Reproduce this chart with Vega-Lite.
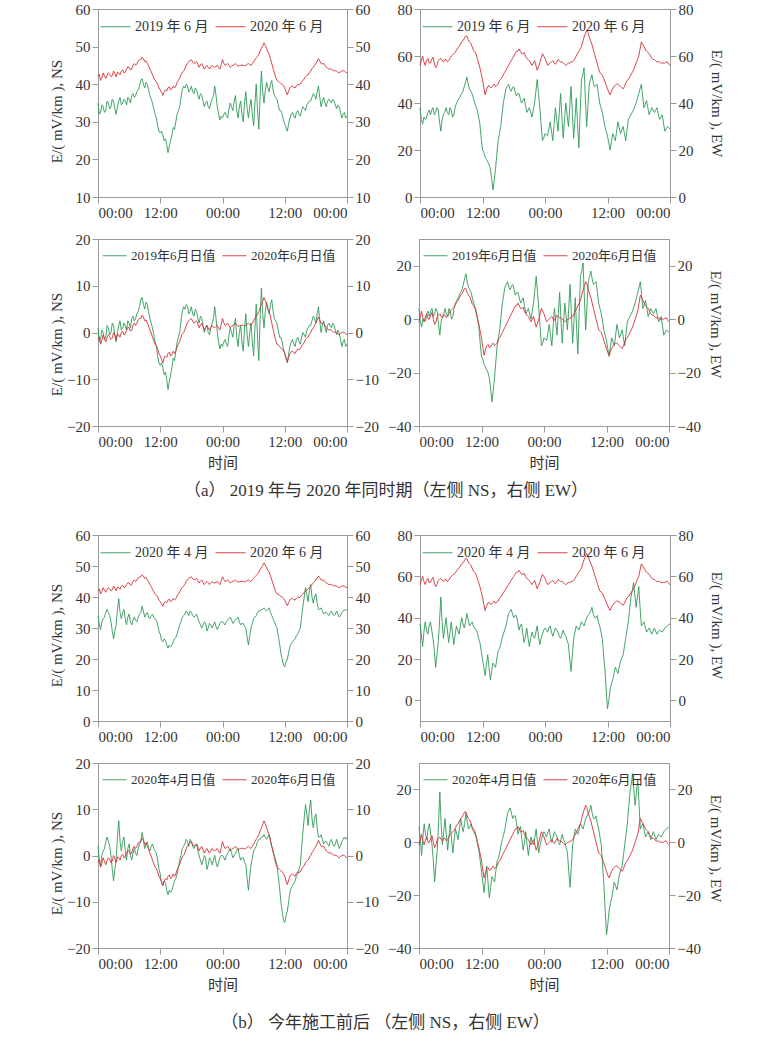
{
"$schema": "https://vega.github.io/schema/vega-lite/v6.json",
"background": "white",
"padding": {"left": 48, "top": 1, "right": 5, "bottom": 5},
"config": {
 "font": "'Liberation Serif', 'Times New Roman', 'Noto Sans CJK SC', serif",
 "view": {"stroke": "#9a9a9a", "strokeWidth": 1},
 "axis": {"domainColor": "#9a9a9a", "tickColor": "#9a9a9a", "labelColor": "#333333", "labelFontSize": 15, "titleFontSize": 15, "titleFontWeight": "normal", "titleColor": "#333333", "grid": false, "tickSize": 6, "labelPadding": 2, "labelFont": "'Liberation Serif', 'Times New Roman', 'Noto Sans CJK SC', serif", "titleFont": "'Liberation Serif', 'Times New Roman', 'Noto Sans CJK SC', serif"},
 "legend": {"orient": "top-left", "direction": "horizontal", "title": null, "offset": 2, "padding": 0, "symbolSize": 900, "symbolStrokeWidth": 1, "labelFontSize": 14, "labelOffset": 4, "columnPadding": 6, "labelColor": "#333333", "labelFont": "'Liberation Serif', 'Times New Roman', 'Noto Sans CJK SC', serif"},
 "title": {"fontSize": 17, "fontWeight": "normal", "color": "#333333", "font": "'Liberation Serif', 'Times New Roman', 'Noto Sans CJK SC', serif"},
 "line": {"strokeWidth": 0.9, "strokeJoin": "round", "clip": true}
},
"datasets": {
"ns": [
{"t":0,"a":35,"b":34,"r":42},{"t":0.5,"a":32.5,"b":29.5,"r":41},{"t":1,"a":34,"b":33,"r":43},{"t":1.5,"a":33,"b":35,"r":41.5},{"t":2,"a":35,"b":35,"r":43},{"t":2.5,"a":34,"b":32,"r":42},{"t":3,"a":35.5,"b":26.5,"r":43.5},{"t":3.5,"a":32,"b":31,"r":42},{"t":4,"a":35.5,"b":39.5,"r":43},{"t":4.5,"a":34.5,"b":33,"r":43.5},{"t":5,"a":36,"b":36,"r":43},{"t":5.5,"a":34.5,"b":31,"r":44},{"t":6,"a":36,"b":34.5,"r":44.5},{"t":6.5,"a":37,"b":31,"r":44},{"t":7,"a":36.5,"b":33.5,"r":45.5},{"t":7.5,"a":38,"b":32,"r":45.5},{"t":8,"a":39.5,"b":34.5,"r":46.5},{"t":8.5,"a":41.5,"b":37,"r":47.2},{"t":9,"a":39,"b":33.5,"r":46},{"t":9.5,"a":40,"b":35,"r":45.5},{"t":10,"a":37,"b":33,"r":44},{"t":10.5,"a":35,"b":34.5,"r":42.5},{"t":11,"a":32,"b":33,"r":41},{"t":11.5,"a":29,"b":31,"r":40},{"t":12,"a":27,"b":28,"r":38.5},{"t":12.5,"a":26.5,"b":25.5,"r":37},{"t":13,"a":25.5,"b":26,"r":38.5},{"t":13.5,"a":21.8,"b":23.5,"r":39},{"t":14,"a":25,"b":24,"r":38.5},{"t":14.5,"a":28.5,"b":25.5,"r":39.5},{"t":15,"a":30,"b":27,"r":39.5},{"t":15.5,"a":33,"b":29.5,"r":41},{"t":16,"a":36.5,"b":32,"r":42.5},{"t":16.5,"a":39.5,"b":34,"r":43.5},{"t":17,"a":40,"b":35.5,"r":45},{"t":17.5,"a":38,"b":34,"r":46},{"t":18,"a":39.5,"b":35,"r":46.5},{"t":18.5,"a":37.5,"b":33.5,"r":45.5},{"t":19,"a":38.5,"b":34.5,"r":46},{"t":19.5,"a":36,"b":32,"r":44.5},{"t":20,"a":37,"b":30,"r":45.5},{"t":20.5,"a":34,"b":32,"r":44},{"t":21,"a":35.5,"b":29,"r":45},{"t":21.5,"a":33.5,"b":31.5,"r":44},{"t":22,"a":36,"b":30,"r":45},{"t":22.5,"a":39.5,"b":32,"r":44.5},{"t":23,"a":34,"b":29.5,"r":45},{"t":23.5,"a":30.5,"b":31.5,"r":44},{"t":24,"a":31,"b":32,"r":46.5},{"t":24.5,"a":32.5,"b":31,"r":45},{"t":25,"a":31,"b":32.5,"r":45.5},{"t":25.5,"a":35,"b":33.5,"r":44.5},{"t":26,"a":33,"b":31.5,"r":45},{"t":26.5,"a":37,"b":32.5,"r":45.5},{"t":27,"a":31,"b":33.5,"r":44.8},{"t":27.5,"a":35.5,"b":31,"r":45},{"t":28,"a":30,"b":31.5,"r":45},{"t":28.5,"a":38,"b":30,"r":45},{"t":29,"a":31,"b":24.5,"r":45.5},{"t":29.5,"a":36,"b":30,"r":45},{"t":30,"a":29,"b":33,"r":46},{"t":30.5,"a":40,"b":34,"r":47},{"t":31,"a":28,"b":35.5,"r":48},{"t":31.5,"a":43.5,"b":36,"r":49.5},{"t":32,"a":35,"b":36.5,"r":51},{"t":32.5,"a":40.5,"b":35.5,"r":49.5},{"t":33,"a":38,"b":36.5,"r":48},{"t":33.5,"a":41,"b":34,"r":45.5},{"t":34,"a":37,"b":32,"r":43},{"t":34.5,"a":36,"b":30,"r":41},{"t":35,"a":33,"b":25,"r":40.5},{"t":35.5,"a":32,"b":20,"r":40},{"t":36,"a":29.5,"b":17.5,"r":39},{"t":36.5,"a":27.5,"b":20,"r":37.2},{"t":37,"a":31,"b":24,"r":39},{"t":37.5,"a":32.5,"b":25.5,"r":39.5},{"t":38,"a":31,"b":26.5,"r":39},{"t":38.5,"a":33,"b":28,"r":40},{"t":39,"a":31.5,"b":30,"r":40},{"t":39.5,"a":34,"b":37,"r":41},{"t":40,"a":33,"b":43,"r":42},{"t":40.5,"a":35,"b":38.5,"r":42.5},{"t":41,"a":35.5,"b":44,"r":43.5},{"t":41.5,"a":37.5,"b":38,"r":44.5},{"t":42,"a":36,"b":41,"r":45.5},{"t":42.5,"a":39.5,"b":36,"r":46.8},{"t":43,"a":34,"b":36.5,"r":45.5},{"t":43.5,"a":36.5,"b":34.5,"r":45.5},{"t":44,"a":34,"b":35,"r":44.5},{"t":44.5,"a":36,"b":34,"r":44},{"t":45,"a":35,"b":35.5,"r":44},{"t":45.5,"a":35.5,"b":34,"r":43.5},{"t":46,"a":33.5,"b":35.5,"r":43.5},{"t":46.5,"a":34,"b":33.5,"r":43},{"t":47,"a":31,"b":35,"r":43.5},{"t":47.5,"a":32.5,"b":36,"r":43.5},{"t":48,"a":31.5,"b":36,"r":43},
{"t":0.25,"a":32,"b":31,"r":42.6},{"t":0.75,"a":34.5,"b":32,"r":41.8},{"t":1.25,"a":32.5,"b":33.5,"r":42.2},{"t":1.75,"a":35.5,"b":36,"r":42.4},{"t":2.25,"a":33.5,"b":34,"r":42.6},{"t":2.75,"a":36,"b":29,"r":42.3},{"t":3.25,"a":33.5,"b":29,"r":42.8},{"t":3.75,"a":34,"b":36,"r":43.2},{"t":4.25,"a":36.5,"b":35,"r":42.5},{"t":4.75,"a":35,"b":35,"r":43.8},{"t":5.25,"a":35.5,"b":33,"r":43.2},{"t":5.75,"a":36.5,"b":33.5,"r":44.6},{"t":6.25,"a":35,"b":32,"r":43.8},{"t":6.75,"a":37.5,"b":32.5,"r":45.1},{"t":7.25,"a":37,"b":32.5,"r":45},{"t":7.75,"a":38.5,"b":33.5,"r":46.2},{"t":8.25,"a":41,"b":35,"r":46.5},{"t":8.75,"a":40,"b":35.5,"r":46.8},{"t":9.25,"a":40.5,"b":34.5,"r":46.2},{"t":9.75,"a":38.5,"b":33.5,"r":44.9},{"t":10.25,"a":36,"b":34,"r":43.4},{"t":10.75,"a":33.5,"b":33.5,"r":41.7},{"t":11.25,"a":31,"b":32.5,"r":40.7},{"t":11.75,"a":27.5,"b":29,"r":39},{"t":12.25,"a":27.5,"b":26,"r":37.8},{"t":12.75,"a":25,"b":26.5,"r":38},{"t":13.25,"a":24,"b":24.5,"r":38.2},{"t":13.75,"a":23.5,"b":24.5,"r":39.3},{"t":14.25,"a":26.5,"b":24.5,"r":38.8},{"t":14.75,"a":28,"b":26.5,"r":39},{"t":15.25,"a":32,"b":28,"r":40.4},{"t":15.75,"a":34,"b":31,"r":41.6},{"t":16.25,"a":38.5,"b":33.5,"r":43.2},{"t":16.75,"a":39,"b":34.5,"r":44.1},{"t":17.25,"a":39.5,"b":35,"r":45.6},{"t":17.75,"a":38.5,"b":35.5,"r":46.3},{"t":18.25,"a":38,"b":34,"r":45.9},{"t":18.75,"a":39,"b":34,"r":45.7},{"t":19.25,"a":37,"b":33,"r":45.3},{"t":19.75,"a":37.5,"b":31,"r":45.1},{"t":20.25,"a":35.5,"b":31,"r":44.7},{"t":20.75,"a":35,"b":31.5,"r":44.6},{"t":21.25,"a":34,"b":30,"r":44.5},{"t":21.75,"a":35,"b":31,"r":44.6},{"t":22.25,"a":37,"b":31,"r":44.6},{"t":22.75,"a":37,"b":30.5,"r":44.8},{"t":23.25,"a":32,"b":30.5,"r":44.4},{"t":23.75,"a":31.5,"b":32,"r":45.2},{"t":24.25,"a":32,"b":31.5,"r":45.6},{"t":24.75,"a":31.5,"b":32,"r":45.2},{"t":25.25,"a":33.5,"b":33,"r":45},{"t":25.75,"a":34,"b":32.5,"r":44.8},{"t":26.25,"a":35.5,"b":32,"r":45.2},{"t":26.75,"a":33,"b":33,"r":45.1},{"t":27.25,"a":34,"b":32,"r":44.9},{"t":27.75,"a":32,"b":31.5,"r":45.1},{"t":28.25,"a":35,"b":30.5,"r":44.9},{"t":28.75,"a":33.5,"b":27,"r":45.3},{"t":29.25,"a":34,"b":27.5,"r":45.2},{"t":29.75,"a":32,"b":31.5,"r":45.5},{"t":30.25,"a":35,"b":33.5,"r":46.5},{"t":30.75,"a":33,"b":35,"r":47.4},{"t":31.25,"a":37,"b":35.5,"r":48.8},{"t":31.75,"a":38,"b":36,"r":50.2},{"t":32.25,"a":38.5,"b":36,"r":50.3},{"t":32.75,"a":39,"b":36,"r":48.6},{"t":33.25,"a":40,"b":35,"r":46.8},{"t":33.75,"a":38.5,"b":33,"r":44.2},{"t":34.25,"a":36.5,"b":31,"r":41.8},{"t":34.75,"a":34.5,"b":27.5,"r":40.8},{"t":35.25,"a":33,"b":22,"r":40.2},{"t":35.75,"a":30.5,"b":18,"r":39.6},{"t":36.25,"a":28.5,"b":19,"r":38},{"t":36.75,"a":29.5,"b":22,"r":38.2},{"t":37.25,"a":32,"b":25,"r":39.4},{"t":37.75,"a":31.5,"b":26,"r":39.2},{"t":38.25,"a":32.5,"b":27.5,"r":39.6},{"t":38.75,"a":32,"b":29,"r":39.8},{"t":39.25,"a":33,"b":33.5,"r":40.6},{"t":39.75,"a":33.5,"b":40,"r":41.4},{"t":40.25,"a":34.5,"b":41,"r":42.3},{"t":40.75,"a":35.5,"b":42,"r":43.1},{"t":41.25,"a":36.5,"b":40,"r":44.1},{"t":41.75,"a":37,"b":40,"r":45},{"t":42.25,"a":38,"b":38,"r":46.1},{"t":42.75,"a":36.5,"b":36,"r":46.2},{"t":43.25,"a":35.5,"b":35.5,"r":45.4},{"t":43.75,"a":35,"b":35,"r":45},{"t":44.25,"a":35.5,"b":34.5,"r":44.3},{"t":44.75,"a":35.5,"b":35,"r":44.1},{"t":45.25,"a":36,"b":34.5,"r":43.8},{"t":45.75,"a":34.5,"b":34.5,"r":43.6},{"t":46.25,"a":34.5,"b":34.5,"r":43.2},{"t":46.75,"a":32.5,"b":34,"r":43.3},{"t":47.25,"a":32,"b":35.5,"r":43.6},{"t":47.75,"a":31,"b":35.5,"r":43.2}
],
"nsd": [
{"t":0,"a":1,"b":2,"r":-1.5},{"t":0.5,"a":-1.5,"b":-2.5,"r":-2.5},{"t":1,"a":0,"b":1,"r":-0.5},{"t":1.5,"a":-1,"b":3,"r":-2},{"t":2,"a":1,"b":3,"r":-0.5},{"t":2.5,"a":0,"b":0,"r":-1.5},{"t":3,"a":1.5,"b":-5.5,"r":0},{"t":3.5,"a":-2,"b":-1,"r":-1.5},{"t":4,"a":1.5,"b":7.5,"r":-0.5},{"t":4.5,"a":0.5,"b":1,"r":0},{"t":5,"a":2,"b":4,"r":-0.5},{"t":5.5,"a":0.5,"b":-1,"r":0.5},{"t":6,"a":2,"b":2.5,"r":1},{"t":6.5,"a":3,"b":-1,"r":0.5},{"t":7,"a":2.5,"b":1.5,"r":2},{"t":7.5,"a":4,"b":0,"r":2},{"t":8,"a":5.5,"b":2.5,"r":3},{"t":8.5,"a":7.5,"b":5,"r":3.7},{"t":9,"a":5,"b":1.5,"r":2.5},{"t":9.5,"a":6,"b":3,"r":2},{"t":10,"a":3,"b":1,"r":0.5},{"t":10.5,"a":1,"b":2.5,"r":-1},{"t":11,"a":-2,"b":1,"r":-2.5},{"t":11.5,"a":-5,"b":-1,"r":-3.5},{"t":12,"a":-7,"b":-4,"r":-5},{"t":12.5,"a":-7.5,"b":-6.5,"r":-6.5},{"t":13,"a":-8.5,"b":-6,"r":-5},{"t":13.5,"a":-12.2,"b":-8.5,"r":-4.5},{"t":14,"a":-9,"b":-8,"r":-5},{"t":14.5,"a":-5.5,"b":-6.5,"r":-4},{"t":15,"a":-4,"b":-5,"r":-4},{"t":15.5,"a":-1,"b":-2.5,"r":-2.5},{"t":16,"a":2.5,"b":0,"r":-1},{"t":16.5,"a":5.5,"b":2,"r":0},{"t":17,"a":6,"b":3.5,"r":1.5},{"t":17.5,"a":4,"b":2,"r":2.5},{"t":18,"a":5.5,"b":3,"r":3},{"t":18.5,"a":3.5,"b":1.5,"r":2},{"t":19,"a":4.5,"b":2.5,"r":2.5},{"t":19.5,"a":2,"b":0,"r":1},{"t":20,"a":3,"b":-2,"r":2},{"t":20.5,"a":0,"b":0,"r":0.5},{"t":21,"a":1.5,"b":-3,"r":1.5},{"t":21.5,"a":-0.5,"b":-0.5,"r":0.5},{"t":22,"a":2,"b":-2,"r":1.5},{"t":22.5,"a":5.5,"b":0,"r":1},{"t":23,"a":0,"b":-2.5,"r":1.5},{"t":23.5,"a":-3.5,"b":-0.5,"r":0.5},{"t":24,"a":-3,"b":0,"r":3},{"t":24.5,"a":-1.5,"b":-1,"r":1.5},{"t":25,"a":-3,"b":0.5,"r":2},{"t":25.5,"a":1,"b":1.5,"r":1},{"t":26,"a":-1,"b":-0.5,"r":1.5},{"t":26.5,"a":3,"b":0.5,"r":2},{"t":27,"a":-3,"b":1.5,"r":1.3},{"t":27.5,"a":1.5,"b":-1,"r":1.5},{"t":28,"a":-4,"b":-0.5,"r":1.5},{"t":28.5,"a":4,"b":-2,"r":1.5},{"t":29,"a":-3,"b":-7.5,"r":2},{"t":29.5,"a":2,"b":-2,"r":1.5},{"t":30,"a":-5,"b":1,"r":2.5},{"t":30.5,"a":6,"b":2,"r":3.5},{"t":31,"a":-6,"b":3.5,"r":4.5},{"t":31.5,"a":9.5,"b":4,"r":6},{"t":32,"a":1,"b":4.5,"r":7.5},{"t":32.5,"a":6.5,"b":3.5,"r":6},{"t":33,"a":4,"b":4.5,"r":4.5},{"t":33.5,"a":7,"b":2,"r":2},{"t":34,"a":3,"b":0,"r":-0.5},{"t":34.5,"a":2,"b":-2,"r":-2.5},{"t":35,"a":-1,"b":-7,"r":-3},{"t":35.5,"a":-2,"b":-12,"r":-3.5},{"t":36,"a":-4.5,"b":-14.5,"r":-4.5},{"t":36.5,"a":-6.5,"b":-12,"r":-6.3},{"t":37,"a":-3,"b":-8,"r":-4.5},{"t":37.5,"a":-1.5,"b":-6.5,"r":-4},{"t":38,"a":-3,"b":-5.5,"r":-4.5},{"t":38.5,"a":-1,"b":-4,"r":-3.5},{"t":39,"a":-2.5,"b":-2,"r":-3.5},{"t":39.5,"a":0,"b":5,"r":-2.5},{"t":40,"a":-1,"b":11,"r":-1.5},{"t":40.5,"a":1,"b":6.5,"r":-1},{"t":41,"a":1.5,"b":12,"r":0},{"t":41.5,"a":3.5,"b":6,"r":1},{"t":42,"a":2,"b":9,"r":2},{"t":42.5,"a":5.5,"b":4,"r":3.3},{"t":43,"a":0,"b":4.5,"r":2},{"t":43.5,"a":2.5,"b":2.5,"r":2},{"t":44,"a":0,"b":3,"r":1},{"t":44.5,"a":2,"b":2,"r":0.5},{"t":45,"a":1,"b":3.5,"r":0.5},{"t":45.5,"a":1.5,"b":2,"r":0},{"t":46,"a":-0.5,"b":3.5,"r":0},{"t":46.5,"a":0,"b":1.5,"r":-0.5},{"t":47,"a":-3,"b":3,"r":0},{"t":47.5,"a":-1.5,"b":4,"r":0},{"t":48,"a":-2.5,"b":4,"r":-0.5},
{"t":0.25,"a":-2,"b":-1,"r":-0.9},{"t":0.75,"a":0.5,"b":0,"r":-1.7},{"t":1.25,"a":-1.5,"b":1.5,"r":-1.3},{"t":1.75,"a":1.5,"b":4,"r":-1.1},{"t":2.25,"a":-0.5,"b":2,"r":-0.9},{"t":2.75,"a":2,"b":-3,"r":-1.2},{"t":3.25,"a":-0.5,"b":-3,"r":-0.7},{"t":3.75,"a":0,"b":4,"r":-0.3},{"t":4.25,"a":2.5,"b":3,"r":-1},{"t":4.75,"a":1,"b":3,"r":0.3},{"t":5.25,"a":1.5,"b":1,"r":-0.3},{"t":5.75,"a":2.5,"b":1.5,"r":1.1},{"t":6.25,"a":1,"b":0,"r":0.3},{"t":6.75,"a":3.5,"b":0.5,"r":1.6},{"t":7.25,"a":3,"b":0.5,"r":1.5},{"t":7.75,"a":4.5,"b":1.5,"r":2.7},{"t":8.25,"a":7,"b":3,"r":3},{"t":8.75,"a":6,"b":3.5,"r":3.3},{"t":9.25,"a":6.5,"b":2.5,"r":2.7},{"t":9.75,"a":4.5,"b":1.5,"r":1.4},{"t":10.25,"a":2,"b":2,"r":-0.1},{"t":10.75,"a":-0.5,"b":1.5,"r":-1.8},{"t":11.25,"a":-3,"b":0.5,"r":-2.8},{"t":11.75,"a":-6.5,"b":-3,"r":-4.5},{"t":12.25,"a":-6.5,"b":-6,"r":-5.7},{"t":12.75,"a":-9,"b":-5.5,"r":-5.5},{"t":13.25,"a":-10,"b":-7.5,"r":-5.3},{"t":13.75,"a":-10.5,"b":-7.5,"r":-4.2},{"t":14.25,"a":-7.5,"b":-7.5,"r":-4.7},{"t":14.75,"a":-6,"b":-5.5,"r":-4.5},{"t":15.25,"a":-2,"b":-4,"r":-3.1},{"t":15.75,"a":0,"b":-1,"r":-1.9},{"t":16.25,"a":4.5,"b":1.5,"r":-0.3},{"t":16.75,"a":5,"b":2.5,"r":0.6},{"t":17.25,"a":5.5,"b":3,"r":2.1},{"t":17.75,"a":4.5,"b":3.5,"r":2.8},{"t":18.25,"a":4,"b":2,"r":2.4},{"t":18.75,"a":5,"b":2,"r":2.2},{"t":19.25,"a":3,"b":1,"r":1.8},{"t":19.75,"a":3.5,"b":-1,"r":1.6},{"t":20.25,"a":1.5,"b":-1,"r":1.2},{"t":20.75,"a":1,"b":-0.5,"r":1.1},{"t":21.25,"a":0,"b":-2,"r":1},{"t":21.75,"a":1,"b":-1,"r":1.1},{"t":22.25,"a":3,"b":-1,"r":1.1},{"t":22.75,"a":3,"b":-1.5,"r":1.3},{"t":23.25,"a":-2,"b":-1.5,"r":0.9},{"t":23.75,"a":-2.5,"b":0,"r":1.7},{"t":24.25,"a":-2,"b":-0.5,"r":2.1},{"t":24.75,"a":-2.5,"b":0,"r":1.7},{"t":25.25,"a":-0.5,"b":1,"r":1.5},{"t":25.75,"a":0,"b":0.5,"r":1.3},{"t":26.25,"a":1.5,"b":0,"r":1.7},{"t":26.75,"a":-1,"b":1,"r":1.6},{"t":27.25,"a":0,"b":0,"r":1.4},{"t":27.75,"a":-2,"b":-0.5,"r":1.6},{"t":28.25,"a":1,"b":-1.5,"r":1.4},{"t":28.75,"a":-0.5,"b":-5,"r":1.8},{"t":29.25,"a":0,"b":-4.5,"r":1.7},{"t":29.75,"a":-2,"b":-0.5,"r":2},{"t":30.25,"a":1,"b":1.5,"r":3},{"t":30.75,"a":-1,"b":3,"r":3.9},{"t":31.25,"a":3,"b":3.5,"r":5.3},{"t":31.75,"a":4,"b":4,"r":6.7},{"t":32.25,"a":4.5,"b":4,"r":6.8},{"t":32.75,"a":5,"b":4,"r":5.1},{"t":33.25,"a":6,"b":3,"r":3.3},{"t":33.75,"a":4.5,"b":1,"r":0.7},{"t":34.25,"a":2.5,"b":-1,"r":-1.7},{"t":34.75,"a":0.5,"b":-4.5,"r":-2.7},{"t":35.25,"a":-1,"b":-10,"r":-3.3},{"t":35.75,"a":-3.5,"b":-14,"r":-3.9},{"t":36.25,"a":-5.5,"b":-13,"r":-5.5},{"t":36.75,"a":-4.5,"b":-10,"r":-5.3},{"t":37.25,"a":-2,"b":-7,"r":-4.1},{"t":37.75,"a":-2.5,"b":-6,"r":-4.3},{"t":38.25,"a":-1.5,"b":-4.5,"r":-3.9},{"t":38.75,"a":-2,"b":-3,"r":-3.7},{"t":39.25,"a":-1,"b":1.5,"r":-2.9},{"t":39.75,"a":-0.5,"b":8,"r":-2.1},{"t":40.25,"a":0.5,"b":9,"r":-1.2},{"t":40.75,"a":1.5,"b":10,"r":-0.4},{"t":41.25,"a":2.5,"b":8,"r":0.6},{"t":41.75,"a":3,"b":8,"r":1.5},{"t":42.25,"a":4,"b":6,"r":2.6},{"t":42.75,"a":2.5,"b":4,"r":2.7},{"t":43.25,"a":1.5,"b":3.5,"r":1.9},{"t":43.75,"a":1,"b":3,"r":1.5},{"t":44.25,"a":1.5,"b":2.5,"r":0.8},{"t":44.75,"a":1.5,"b":3,"r":0.6},{"t":45.25,"a":2,"b":2.5,"r":0.3},{"t":45.75,"a":0.5,"b":2.5,"r":0.1},{"t":46.25,"a":0.5,"b":2.5,"r":-0.3},{"t":46.75,"a":-1.5,"b":2,"r":-0.2},{"t":47.25,"a":-2,"b":3.5,"r":0.1},{"t":47.75,"a":-3,"b":3.5,"r":-0.3}
],
"ew": [
{"t":0,"a":38,"b":37,"r":56},{"t":0.5,"a":31,"b":26,"r":60},{"t":1,"a":33,"b":38,"r":56},{"t":1.5,"a":36,"b":32,"r":59},{"t":2,"a":35,"b":38,"r":57},{"t":2.5,"a":38,"b":30,"r":59.5},{"t":3,"a":36,"b":16,"r":55},{"t":3.5,"a":37,"b":28,"r":58},{"t":4,"a":28,"b":50,"r":59},{"t":4.5,"a":35,"b":30,"r":57.5},{"t":5,"a":38,"b":40,"r":58.5},{"t":5.5,"a":35,"b":28,"r":58},{"t":6,"a":37,"b":38,"r":60},{"t":6.5,"a":35,"b":27,"r":61},{"t":7,"a":40,"b":36,"r":62.5},{"t":7.5,"a":42,"b":32,"r":64},{"t":8,"a":44,"b":40,"r":66},{"t":8.5,"a":47,"b":35,"r":67.5},{"t":9,"a":51,"b":42,"r":68.5},{"t":9.5,"a":46,"b":36,"r":66},{"t":10,"a":44,"b":38,"r":64},{"t":10.5,"a":40,"b":35,"r":62},{"t":11,"a":37,"b":33,"r":59},{"t":11.5,"a":31,"b":28,"r":55},{"t":12,"a":20,"b":20,"r":50},{"t":12.5,"a":17,"b":12,"r":43.5},{"t":13,"a":15,"b":22,"r":47},{"t":13.5,"a":12,"b":10,"r":46.5},{"t":14,"a":3,"b":18,"r":47.5},{"t":14.5,"a":12,"b":16,"r":47},{"t":15,"a":24,"b":24,"r":48},{"t":15.5,"a":30,"b":27,"r":50},{"t":16,"a":40,"b":32,"r":52},{"t":16.5,"a":46,"b":36,"r":54},{"t":17,"a":48,"b":42,"r":56},{"t":17.5,"a":45,"b":44,"r":58},{"t":18,"a":47,"b":40,"r":60},{"t":18.5,"a":43,"b":41,"r":62},{"t":19,"a":44,"b":34,"r":63},{"t":19.5,"a":40,"b":37,"r":61},{"t":20,"a":42,"b":28,"r":61.5},{"t":20.5,"a":36,"b":35,"r":59},{"t":21,"a":38,"b":26,"r":58},{"t":21.5,"a":34,"b":33,"r":56},{"t":22,"a":40,"b":30,"r":58},{"t":22.5,"a":50,"b":36,"r":54},{"t":23,"a":38,"b":27,"r":57},{"t":23.5,"a":24,"b":32,"r":61},{"t":24,"a":27,"b":35,"r":59},{"t":24.5,"a":26,"b":33,"r":56},{"t":25,"a":32,"b":36,"r":57},{"t":25.5,"a":24,"b":31,"r":58},{"t":26,"a":38,"b":35,"r":56.5},{"t":26.5,"a":28,"b":33,"r":58.5},{"t":27,"a":44,"b":30,"r":57.5},{"t":27.5,"a":25,"b":34,"r":57},{"t":28,"a":40,"b":31,"r":56},{"t":28.5,"a":30,"b":27,"r":57},{"t":29,"a":47,"b":14,"r":57.5},{"t":29.5,"a":25,"b":30,"r":58},{"t":30,"a":42,"b":36,"r":60},{"t":30.5,"a":21,"b":34,"r":62},{"t":31,"a":50,"b":38,"r":64},{"t":31.5,"a":55,"b":36,"r":68},{"t":32,"a":30,"b":40,"r":71},{"t":32.5,"a":48,"b":42,"r":68},{"t":33,"a":52,"b":45,"r":65},{"t":33.5,"a":47,"b":40,"r":61},{"t":34,"a":48,"b":41,"r":57},{"t":34.5,"a":40,"b":36,"r":53},{"t":35,"a":36,"b":30,"r":52},{"t":35.5,"a":30,"b":15,"r":49},{"t":36,"a":26,"b":-4,"r":46},{"t":36.5,"a":20,"b":5,"r":43.5},{"t":37,"a":27,"b":10,"r":46},{"t":37.5,"a":24,"b":16,"r":47.5},{"t":38,"a":32,"b":13,"r":48},{"t":38.5,"a":27,"b":19,"r":47},{"t":39,"a":30,"b":22,"r":46},{"t":39.5,"a":24,"b":30,"r":48.5},{"t":40,"a":33,"b":38,"r":50},{"t":40.5,"a":35,"b":50,"r":52},{"t":41,"a":37,"b":57,"r":54},{"t":41.5,"a":40,"b":45,"r":57},{"t":42,"a":44,"b":55,"r":60},{"t":42.5,"a":48,"b":36,"r":66},{"t":43,"a":38,"b":38,"r":64},{"t":43.5,"a":41,"b":33,"r":62},{"t":44,"a":35,"b":35,"r":61},{"t":44.5,"a":38,"b":32,"r":59},{"t":45,"a":36,"b":35,"r":58.5},{"t":45.5,"a":38,"b":32,"r":57.5},{"t":46,"a":33,"b":34,"r":57.5},{"t":46.5,"a":35,"b":33,"r":57},{"t":47,"a":28,"b":35,"r":57},{"t":47.5,"a":30,"b":36,"r":57.5},{"t":48,"a":29,"b":37,"r":56},
{"t":0.25,"a":33,"b":32,"r":58},{"t":0.75,"a":34,"b":33,"r":57.5},{"t":1.25,"a":33.5,"b":34,"r":58},{"t":1.75,"a":37,"b":36,"r":57},{"t":2.25,"a":37,"b":34,"r":58.5},{"t":2.75,"a":35,"b":24,"r":57},{"t":3.25,"a":38,"b":22,"r":56},{"t":3.75,"a":32,"b":38,"r":58.5},{"t":4.25,"a":33,"b":38,"r":58},{"t":4.75,"a":36,"b":35,"r":58.5},{"t":5.25,"a":36,"b":34,"r":57.5},{"t":5.75,"a":38,"b":33,"r":59},{"t":6.25,"a":34,"b":32,"r":60.5},{"t":6.75,"a":38,"b":32,"r":61.5},{"t":7.25,"a":41,"b":34,"r":63.5},{"t":7.75,"a":43,"b":36,"r":65},{"t":8.25,"a":45,"b":37,"r":66.5},{"t":8.75,"a":49,"b":38,"r":68.5},{"t":9.25,"a":48,"b":39,"r":67},{"t":9.75,"a":45,"b":37,"r":65.5},{"t":10.25,"a":42,"b":36,"r":62.5},{"t":10.75,"a":38.5,"b":34,"r":61},{"t":11.25,"a":34,"b":30,"r":57},{"t":11.75,"a":25,"b":24,"r":52.5},{"t":12.25,"a":19,"b":16,"r":46.5},{"t":12.75,"a":16,"b":17,"r":45.5},{"t":13.25,"a":14,"b":16,"r":47.5},{"t":13.75,"a":8,"b":14,"r":46.5},{"t":14.25,"a":7,"b":17,"r":48},{"t":14.75,"a":18,"b":20,"r":47.5},{"t":15.25,"a":27,"b":25,"r":49.5},{"t":15.75,"a":35,"b":30,"r":51},{"t":16.25,"a":43,"b":34,"r":53},{"t":16.75,"a":47,"b":39,"r":55},{"t":17.25,"a":46,"b":43,"r":57},{"t":17.75,"a":46.5,"b":42,"r":59},{"t":18.25,"a":45,"b":41,"r":61},{"t":18.75,"a":44,"b":38,"r":62},{"t":19.25,"a":42,"b":36,"r":62},{"t":19.75,"a":41,"b":32,"r":61},{"t":20.25,"a":39,"b":31,"r":60},{"t":20.75,"a":37,"b":30,"r":58.5},{"t":21.25,"a":36,"b":30,"r":57},{"t":21.75,"a":37,"b":31,"r":57},{"t":22.25,"a":45,"b":33,"r":56},{"t":22.75,"a":44,"b":31,"r":55.5},{"t":23.25,"a":31,"b":30,"r":59},{"t":23.75,"a":25,"b":34,"r":60},{"t":24.25,"a":26.5,"b":34,"r":57.5},{"t":24.75,"a":29,"b":35,"r":56.5},{"t":25.25,"a":28,"b":33,"r":57.5},{"t":25.75,"a":31,"b":33,"r":57},{"t":26.25,"a":33,"b":34,"r":57.5},{"t":26.75,"a":36,"b":31,"r":58},{"t":27.25,"a":34,"b":32,"r":57.5},{"t":27.75,"a":33,"b":32,"r":56.5},{"t":28.25,"a":35,"b":29,"r":56.5},{"t":28.75,"a":38,"b":20,"r":57},{"t":29.25,"a":36,"b":22,"r":57.5},{"t":29.75,"a":33,"b":33,"r":59},{"t":30.25,"a":31,"b":35,"r":61},{"t":30.75,"a":36,"b":36,"r":63},{"t":31.25,"a":52,"b":37,"r":66},{"t":31.75,"a":42,"b":38,"r":69.5},{"t":32.25,"a":39,"b":41,"r":70},{"t":32.75,"a":50,"b":43,"r":66.5},{"t":33.25,"a":49,"b":42,"r":63},{"t":33.75,"a":47.5,"b":40,"r":59},{"t":34.25,"a":44,"b":38,"r":55},{"t":34.75,"a":38,"b":33,"r":52.5},{"t":35.25,"a":33,"b":22,"r":50.5},{"t":35.75,"a":28,"b":5,"r":47.5},{"t":36.25,"a":23,"b":0,"r":44.5},{"t":36.75,"a":23.5,"b":8,"r":45},{"t":37.25,"a":25.5,"b":13,"r":47},{"t":37.75,"a":28,"b":14.5,"r":48},{"t":38.25,"a":29.5,"b":16,"r":47.5},{"t":38.75,"a":28.5,"b":20.5,"r":46.5},{"t":39.25,"a":27,"b":26,"r":47},{"t":39.75,"a":28.5,"b":34,"r":49.5},{"t":40.25,"a":34,"b":44,"r":51},{"t":40.75,"a":36,"b":53,"r":53},{"t":41.25,"a":38.5,"b":51,"r":55.5},{"t":41.75,"a":42,"b":50,"r":58.5},{"t":42.25,"a":46,"b":45,"r":63},{"t":42.75,"a":43,"b":37,"r":65},{"t":43.25,"a":39.5,"b":35.5,"r":63},{"t":43.75,"a":38,"b":34,"r":61.5},{"t":44.25,"a":36.5,"b":33.5,"r":60},{"t":44.75,"a":37,"b":33.5,"r":58.5},{"t":45.25,"a":37,"b":33.5,"r":58},{"t":45.75,"a":35.5,"b":33,"r":57.5},{"t":46.25,"a":34,"b":33.5,"r":57},{"t":46.75,"a":31.5,"b":34,"r":57},{"t":47.25,"a":29,"b":35.5,"r":57.5},{"t":47.75,"a":29.5,"b":36.5,"r":56.5}
],
"ewd": [
{"t":0,"a":4,"b":6,"r":-1},{"t":0.5,"a":-3,"b":-5,"r":3},{"t":1,"a":-1,"b":7,"r":-1},{"t":1.5,"a":2,"b":1,"r":2},{"t":2,"a":1,"b":7,"r":0},{"t":2.5,"a":4,"b":-1,"r":2.5},{"t":3,"a":2,"b":-15,"r":-2},{"t":3.5,"a":3,"b":-3,"r":1},{"t":4,"a":-6,"b":19,"r":2},{"t":4.5,"a":1,"b":-1,"r":0.5},{"t":5,"a":4,"b":9,"r":1.5},{"t":5.5,"a":1,"b":-3,"r":1},{"t":6,"a":3,"b":7,"r":3},{"t":6.5,"a":1,"b":-4,"r":4},{"t":7,"a":6,"b":5,"r":5.5},{"t":7.5,"a":8,"b":1,"r":7},{"t":8,"a":10,"b":9,"r":9},{"t":8.5,"a":13,"b":4,"r":10.5},{"t":9,"a":17,"b":11,"r":11.5},{"t":9.5,"a":12,"b":5,"r":9},{"t":10,"a":10,"b":7,"r":7},{"t":10.5,"a":6,"b":4,"r":5},{"t":11,"a":3,"b":2,"r":2},{"t":11.5,"a":-3,"b":-3,"r":-2},{"t":12,"a":-14,"b":-11,"r":-7},{"t":12.5,"a":-17,"b":-19,"r":-13.5},{"t":13,"a":-19,"b":-9,"r":-10},{"t":13.5,"a":-22,"b":-21,"r":-10.5},{"t":14,"a":-31,"b":-13,"r":-9.5},{"t":14.5,"a":-22,"b":-15,"r":-10},{"t":15,"a":-10,"b":-7,"r":-9},{"t":15.5,"a":-4,"b":-4,"r":-7},{"t":16,"a":6,"b":1,"r":-5},{"t":16.5,"a":12,"b":5,"r":-3},{"t":17,"a":14,"b":11,"r":-1},{"t":17.5,"a":11,"b":13,"r":1},{"t":18,"a":13,"b":9,"r":3},{"t":18.5,"a":9,"b":10,"r":5},{"t":19,"a":10,"b":3,"r":6},{"t":19.5,"a":6,"b":6,"r":4},{"t":20,"a":8,"b":-3,"r":4.5},{"t":20.5,"a":2,"b":4,"r":2},{"t":21,"a":4,"b":-5,"r":1},{"t":21.5,"a":0,"b":2,"r":-1},{"t":22,"a":6,"b":-1,"r":1},{"t":22.5,"a":16,"b":5,"r":-3},{"t":23,"a":4,"b":-4,"r":0},{"t":23.5,"a":-10,"b":1,"r":4},{"t":24,"a":-7,"b":4,"r":2},{"t":24.5,"a":-8,"b":2,"r":-1},{"t":25,"a":-2,"b":5,"r":0},{"t":25.5,"a":-10,"b":0,"r":1},{"t":26,"a":4,"b":4,"r":-0.5},{"t":26.5,"a":-6,"b":2,"r":1.5},{"t":27,"a":10,"b":-1,"r":0.5},{"t":27.5,"a":-9,"b":3,"r":0},{"t":28,"a":6,"b":0,"r":-1},{"t":28.5,"a":-4,"b":-4,"r":0},{"t":29,"a":13,"b":-17,"r":0.5},{"t":29.5,"a":-9,"b":-1,"r":1},{"t":30,"a":8,"b":5,"r":3},{"t":30.5,"a":-13,"b":3,"r":5},{"t":31,"a":16,"b":7,"r":7},{"t":31.5,"a":21,"b":5,"r":11},{"t":32,"a":-4,"b":9,"r":14},{"t":32.5,"a":14,"b":11,"r":11},{"t":33,"a":18,"b":14,"r":8},{"t":33.5,"a":13,"b":9,"r":4},{"t":34,"a":14,"b":10,"r":0},{"t":34.5,"a":6,"b":5,"r":-4},{"t":35,"a":2,"b":-1,"r":-5},{"t":35.5,"a":-4,"b":-16,"r":-8},{"t":36,"a":-8,"b":-35,"r":-11},{"t":36.5,"a":-14,"b":-26,"r":-13.5},{"t":37,"a":-7,"b":-21,"r":-11},{"t":37.5,"a":-10,"b":-15,"r":-9.5},{"t":38,"a":-2,"b":-18,"r":-9},{"t":38.5,"a":-7,"b":-12,"r":-10},{"t":39,"a":-4,"b":-9,"r":-11},{"t":39.5,"a":-10,"b":-1,"r":-8.5},{"t":40,"a":-1,"b":7,"r":-7},{"t":40.5,"a":1,"b":19,"r":-5},{"t":41,"a":3,"b":26,"r":-3},{"t":41.5,"a":6,"b":14,"r":0},{"t":42,"a":10,"b":24,"r":3},{"t":42.5,"a":14,"b":5,"r":9},{"t":43,"a":4,"b":7,"r":7},{"t":43.5,"a":7,"b":2,"r":5},{"t":44,"a":1,"b":4,"r":4},{"t":44.5,"a":4,"b":1,"r":2},{"t":45,"a":2,"b":4,"r":1.5},{"t":45.5,"a":4,"b":1,"r":0.5},{"t":46,"a":-1,"b":3,"r":0.5},{"t":46.5,"a":1,"b":2,"r":0},{"t":47,"a":-6,"b":4,"r":0},{"t":47.5,"a":-4,"b":5,"r":0.5},{"t":48,"a":-5,"b":6,"r":-1},
{"t":0.25,"a":-1,"b":1,"r":1},{"t":0.75,"a":0,"b":2,"r":0.5},{"t":1.25,"a":-0.5,"b":3,"r":1},{"t":1.75,"a":3,"b":5,"r":0},{"t":2.25,"a":3,"b":3,"r":1.5},{"t":2.75,"a":1,"b":-7,"r":0},{"t":3.25,"a":4,"b":-9,"r":-1},{"t":3.75,"a":-2,"b":7,"r":1.5},{"t":4.25,"a":-1,"b":7,"r":1},{"t":4.75,"a":2,"b":4,"r":1.5},{"t":5.25,"a":2,"b":3,"r":0.5},{"t":5.75,"a":4,"b":2,"r":2},{"t":6.25,"a":0,"b":1,"r":3.5},{"t":6.75,"a":4,"b":1,"r":4.5},{"t":7.25,"a":7,"b":3,"r":6.5},{"t":7.75,"a":9,"b":5,"r":8},{"t":8.25,"a":11,"b":6,"r":9.5},{"t":8.75,"a":15,"b":7,"r":11.5},{"t":9.25,"a":14,"b":8,"r":10},{"t":9.75,"a":11,"b":6,"r":8.5},{"t":10.25,"a":8,"b":5,"r":5.5},{"t":10.75,"a":4.5,"b":3,"r":4},{"t":11.25,"a":0,"b":-1,"r":0},{"t":11.75,"a":-9,"b":-7,"r":-4.5},{"t":12.25,"a":-15,"b":-15,"r":-10.5},{"t":12.75,"a":-18,"b":-14,"r":-11.5},{"t":13.25,"a":-20,"b":-15,"r":-9.5},{"t":13.75,"a":-26,"b":-17,"r":-10.5},{"t":14.25,"a":-27,"b":-14,"r":-9},{"t":14.75,"a":-16,"b":-11,"r":-9.5},{"t":15.25,"a":-7,"b":-6,"r":-7.5},{"t":15.75,"a":1,"b":-1,"r":-6},{"t":16.25,"a":9,"b":3,"r":-4},{"t":16.75,"a":13,"b":8,"r":-2},{"t":17.25,"a":12,"b":12,"r":0},{"t":17.75,"a":12.5,"b":11,"r":2},{"t":18.25,"a":11,"b":10,"r":4},{"t":18.75,"a":10,"b":7,"r":5},{"t":19.25,"a":8,"b":5,"r":5},{"t":19.75,"a":7,"b":1,"r":4},{"t":20.25,"a":5,"b":0,"r":3},{"t":20.75,"a":3,"b":-1,"r":1.5},{"t":21.25,"a":2,"b":-1,"r":0},{"t":21.75,"a":3,"b":0,"r":0},{"t":22.25,"a":11,"b":2,"r":-1},{"t":22.75,"a":10,"b":0,"r":-1.5},{"t":23.25,"a":-3,"b":-1,"r":2},{"t":23.75,"a":-9,"b":3,"r":3},{"t":24.25,"a":-7.5,"b":3,"r":0.5},{"t":24.75,"a":-5,"b":4,"r":-0.5},{"t":25.25,"a":-6,"b":2,"r":0.5},{"t":25.75,"a":-3,"b":2,"r":0},{"t":26.25,"a":-1,"b":3,"r":0.5},{"t":26.75,"a":2,"b":0,"r":1},{"t":27.25,"a":0,"b":1,"r":0.5},{"t":27.75,"a":-1,"b":1,"r":-0.5},{"t":28.25,"a":1,"b":-2,"r":-0.5},{"t":28.75,"a":4,"b":-11,"r":0},{"t":29.25,"a":2,"b":-9,"r":0.5},{"t":29.75,"a":-1,"b":2,"r":2},{"t":30.25,"a":-3,"b":4,"r":4},{"t":30.75,"a":2,"b":5,"r":6},{"t":31.25,"a":18,"b":6,"r":9},{"t":31.75,"a":8,"b":7,"r":12.5},{"t":32.25,"a":5,"b":10,"r":13},{"t":32.75,"a":16,"b":12,"r":9.5},{"t":33.25,"a":15,"b":11,"r":6},{"t":33.75,"a":13.5,"b":9,"r":2},{"t":34.25,"a":10,"b":7,"r":-2},{"t":34.75,"a":4,"b":2,"r":-4.5},{"t":35.25,"a":-1,"b":-9,"r":-6.5},{"t":35.75,"a":-6,"b":-26,"r":-9.5},{"t":36.25,"a":-11,"b":-31,"r":-12.5},{"t":36.75,"a":-10.5,"b":-23,"r":-12},{"t":37.25,"a":-8.5,"b":-18,"r":-10},{"t":37.75,"a":-6,"b":-16.5,"r":-9},{"t":38.25,"a":-4.5,"b":-15,"r":-9.5},{"t":38.75,"a":-5.5,"b":-10.5,"r":-10.5},{"t":39.25,"a":-7,"b":-5,"r":-10},{"t":39.75,"a":-5.5,"b":3,"r":-7.5},{"t":40.25,"a":0,"b":13,"r":-6},{"t":40.75,"a":2,"b":22,"r":-4},{"t":41.25,"a":4.5,"b":20,"r":-1.5},{"t":41.75,"a":8,"b":19,"r":1.5},{"t":42.25,"a":12,"b":14,"r":6},{"t":42.75,"a":9,"b":6,"r":8},{"t":43.25,"a":5.5,"b":4.5,"r":6},{"t":43.75,"a":4,"b":3,"r":4.5},{"t":44.25,"a":2.5,"b":2.5,"r":3},{"t":44.75,"a":3,"b":2.5,"r":1.5},{"t":45.25,"a":3,"b":2.5,"r":1},{"t":45.75,"a":1.5,"b":2,"r":0.5},{"t":46.25,"a":0,"b":2.5,"r":0},{"t":46.75,"a":-2.5,"b":3,"r":0},{"t":47.25,"a":-5,"b":4.5,"r":0.5},{"t":47.75,"a":-4.5,"b":5.5,"r":-0.5}
]
},
"spacing": 10,
"resolve": {"scale": {"x": "independent", "y": "independent", "color": "independent"}, "legend": {"color": "independent"}},
"vconcat": [
  {
   "spacing": 25,
   "resolve": {"scale": {"x": "independent", "y": "independent", "color": "independent"}, "legend": {"color": "independent"}},
   "hconcat": [
    {"width": 249, "height": 188, "data": {"name": "ns"},
     "layer": [
      {"mark": {"type": "line", "color": "#2f9a58"}, "encoding": {
        "x": {"field": "t", "type": "quantitative", "scale": {"domain": [0, 48], "nice": false, "zero": false}, "axis": {"values": [0, 12, 24, 36, 48], "labelExpr": "datum.value % 24 == 0 ? '00:00' : '12:00'", "title": null}},
        "y": {"field": "a", "type": "quantitative", "scale": {"domain": [10, 60], "nice": false, "zero": false}, "axis": {"values": [10, 20, 30, 40, 50, 60], "title": "E/( mV/km ), NS", "titleX": -42, "titleY": 102, "titleBaseline": "middle", "titleAngle": 270}},
        "color": {"datum": "2019 年 6 月", "scale": {"domain": ["2019 年 6 月", "2020 年 6 月"], "range": ["#2f9a58", "#d62f35"]}}}},
      {"mark": {"type": "line", "color": "#d62f35"}, "encoding": {
        "x": {"field": "t", "type": "quantitative"},
        "y": {"field": "r", "type": "quantitative", "scale": {"domain": [10, 60], "nice": false, "zero": false}, "axis": {"orient": "right", "values": [10, 20, 30, 40, 50, 60], "title": null}},
        "color": {"datum": "2020 年 6 月"}}}
     ],
     "resolve": {"scale": {"y": "independent"}}},
    {"width": 250, "height": 188, "data": {"name": "ew"},
     "layer": [
      {"mark": {"type": "line", "color": "#2f9a58"}, "encoding": {
        "x": {"field": "t", "type": "quantitative", "scale": {"domain": [0, 48], "nice": false, "zero": false}, "axis": {"values": [0, 12, 24, 36, 48], "labelExpr": "datum.value % 24 == 0 ? '00:00' : '12:00'", "title": null}},
        "y": {"field": "a", "type": "quantitative", "scale": {"domain": [0, 80], "nice": false, "zero": false}, "axis": {"values": [0, 20, 40, 60, 80], "title": null}},
        "color": {"datum": "2019 年 6 月", "scale": {"domain": ["2019 年 6 月", "2020 年 6 月"], "range": ["#2f9a58", "#d62f35"]}}}},
      {"mark": {"type": "line", "color": "#d62f35"}, "encoding": {
        "x": {"field": "t", "type": "quantitative"},
        "y": {"field": "r", "type": "quantitative", "scale": {"domain": [0, 80], "nice": false, "zero": false}, "axis": {"orient": "right", "values": [0, 20, 40, 60, 80], "title": "E/( mV/km ), EW", "titleX": 46, "titleY": 94, "titleBaseline": "middle", "titleAngle": 90}},
        "color": {"datum": "2020 年 6 月"}}}
     ],
     "resolve": {"scale": {"y": "independent"}}}
   ]
  },
  {
   "spacing": 8,
   "resolve": {"scale": {"x": "independent", "y": "independent", "color": "independent"}, "legend": {"color": "independent"}},
   "hconcat": [
    {"width": 249, "height": 187, "data": {"name": "nsd"},
     "layer": [
      {"mark": {"type": "line", "color": "#2f9a58"}, "encoding": {
        "x": {"field": "t", "type": "quantitative", "scale": {"domain": [0, 48], "nice": false, "zero": false}, "axis": {"values": [0, 12, 24, 36, 48], "labelExpr": "datum.value % 24 == 0 ? '00:00' : '12:00'", "title": "时间", "titlePadding": 6}},
        "y": {"field": "a", "type": "quantitative", "scale": {"domain": [-20, 20], "nice": false, "zero": false}, "axis": {"values": [-20, -10, 0, 10, 20], "title": "E/( mV/km ), NS", "titleX": -42, "titleY": 105, "titleBaseline": "middle", "titleAngle": 270}},
        "color": {"datum": "2019年6月日值", "scale": {"domain": ["2019年6月日值", "2020年6月日值"], "range": ["#2f9a58", "#d62f35"]}, "legend": {"symbolSize": 576, "labelFontSize": 13, "offset": 4}}}},
      {"mark": {"type": "line", "color": "#d62f35"}, "encoding": {
        "x": {"field": "t", "type": "quantitative"},
        "y": {"field": "r", "type": "quantitative", "scale": {"domain": [-20, 20], "nice": false, "zero": false}, "axis": {"orient": "right", "values": [-20, -10, 0, 10, 20], "title": null}},
        "color": {"datum": "2020年6月日值"}}}
     ],
     "resolve": {"scale": {"y": "independent"}}},
    {"width": 250, "height": 187, "data": {"name": "ewd"},
     "layer": [
      {"mark": {"type": "line", "color": "#2f9a58"}, "encoding": {
        "x": {"field": "t", "type": "quantitative", "scale": {"domain": [0, 48], "nice": false, "zero": false}, "axis": {"values": [0, 12, 24, 36, 48], "labelExpr": "datum.value % 24 == 0 ? '00:00' : '12:00'", "title": "时间", "titlePadding": 6}},
        "y": {"field": "a", "type": "quantitative", "scale": {"domain": [-40, 30], "nice": false, "zero": false}, "axis": {"values": [-40, -20, 0, 20], "title": null}},
        "color": {"datum": "2019年6月日值", "scale": {"domain": ["2019年6月日值", "2020年6月日值"], "range": ["#2f9a58", "#d62f35"]}, "legend": {"symbolSize": 576, "labelFontSize": 13, "offset": 4}}}},
      {"mark": {"type": "line", "color": "#d62f35"}, "encoding": {
        "x": {"field": "t", "type": "quantitative"},
        "y": {"field": "r", "type": "quantitative", "scale": {"domain": [-40, 30], "nice": false, "zero": false}, "axis": {"orient": "right", "values": [-40, -20, 0, 20], "title": "E/( mV/km ), EW", "titleX": 46, "titleY": 85, "titleBaseline": "middle", "titleAngle": 90}},
        "color": {"datum": "2020年6月日值"}}}
     ],
     "resolve": {"scale": {"y": "independent"}}}
   ]
  },
  {
   "spacing": 25,
   "title": {"text": "（a） 2019 年与 2020 年同时期（左侧 NS，右侧 EW）", "orient": "top", "anchor": "middle", "offset": 28},
   "resolve": {"scale": {"x": "independent", "y": "independent", "color": "independent"}, "legend": {"color": "independent"}},
   "hconcat": [
    {"width": 249, "height": 186, "data": {"name": "ns"},
     "layer": [
      {"mark": {"type": "line", "color": "#2f9a58"}, "encoding": {
        "x": {"field": "t", "type": "quantitative", "scale": {"domain": [0, 48], "nice": false, "zero": false}, "axis": {"values": [0, 12, 24, 36, 48], "labelExpr": "datum.value % 24 == 0 ? '00:00' : '12:00'", "title": null}},
        "y": {"field": "b", "type": "quantitative", "scale": {"domain": [0, 60], "nice": false, "zero": false}, "axis": {"values": [0, 10, 20, 30, 40, 50, 60], "title": "E/( mV/km ), NS", "titleX": -42, "titleY": 100, "titleBaseline": "middle", "titleAngle": 270}},
        "color": {"datum": "2020 年 4 月", "scale": {"domain": ["2020 年 4 月", "2020 年 6 月"], "range": ["#2f9a58", "#d62f35"]}}}},
      {"mark": {"type": "line", "color": "#d62f35"}, "encoding": {
        "x": {"field": "t", "type": "quantitative"},
        "y": {"field": "r", "type": "quantitative", "scale": {"domain": [0, 60], "nice": false, "zero": false}, "axis": {"orient": "right", "values": [0, 10, 20, 30, 40, 50, 60], "title": null}},
        "color": {"datum": "2020 年 6 月"}}}
     ],
     "resolve": {"scale": {"y": "independent"}}},
    {"width": 250, "height": 186, "data": {"name": "ew"},
     "layer": [
      {"mark": {"type": "line", "color": "#2f9a58"}, "encoding": {
        "x": {"field": "t", "type": "quantitative", "scale": {"domain": [0, 48], "nice": false, "zero": false}, "axis": {"values": [0, 12, 24, 36, 48], "labelExpr": "datum.value % 24 == 0 ? '00:00' : '12:00'", "title": null}},
        "y": {"field": "b", "type": "quantitative", "scale": {"domain": [-10, 80], "nice": false, "zero": false}, "axis": {"values": [0, 20, 40, 60, 80], "title": null}},
        "color": {"datum": "2020 年 4 月", "scale": {"domain": ["2020 年 4 月", "2020 年 6 月"], "range": ["#2f9a58", "#d62f35"]}}}},
      {"mark": {"type": "line", "color": "#d62f35"}, "encoding": {
        "x": {"field": "t", "type": "quantitative"},
        "y": {"field": "r", "type": "quantitative", "scale": {"domain": [-10, 80], "nice": false, "zero": false}, "axis": {"orient": "right", "values": [0, 20, 40, 60, 80], "title": "E/( mV/km ), EW", "titleX": 46, "titleY": 90, "titleBaseline": "middle", "titleAngle": 90}},
        "color": {"datum": "2020 年 6 月"}}}
     ],
     "resolve": {"scale": {"y": "independent"}}}
   ]
  },
  {
   "spacing": 8,
   "title": {"text": "（b） 今年施工前后 （左侧 NS，右侧 EW）", "orient": "bottom", "anchor": "middle", "offset": 22},
   "resolve": {"scale": {"x": "independent", "y": "independent", "color": "independent"}, "legend": {"color": "independent"}},
   "hconcat": [
    {"width": 249, "height": 185, "data": {"name": "nsd"},
     "layer": [
      {"mark": {"type": "line", "color": "#2f9a58"}, "encoding": {
        "x": {"field": "t", "type": "quantitative", "scale": {"domain": [0, 48], "nice": false, "zero": false}, "axis": {"values": [0, 12, 24, 36, 48], "labelExpr": "datum.value % 24 == 0 ? '00:00' : '12:00'", "title": "时间", "titlePadding": 6}},
        "y": {"field": "b", "type": "quantitative", "scale": {"domain": [-20, 20], "nice": false, "zero": false}, "axis": {"values": [-20, -10, 0, 10, 20], "title": "E/( mV/km ), NS", "titleX": -42, "titleY": 100, "titleBaseline": "middle", "titleAngle": 270}},
        "color": {"datum": "2020年4月日值", "scale": {"domain": ["2020年4月日值", "2020年6月日值"], "range": ["#2f9a58", "#d62f35"]}, "legend": {"symbolSize": 576, "labelFontSize": 13, "offset": 4}}}},
      {"mark": {"type": "line", "color": "#d62f35"}, "encoding": {
        "x": {"field": "t", "type": "quantitative"},
        "y": {"field": "r", "type": "quantitative", "scale": {"domain": [-20, 20], "nice": false, "zero": false}, "axis": {"orient": "right", "values": [-20, -10, 0, 10, 20], "title": null}},
        "color": {"datum": "2020年6月日值"}}}
     ],
     "resolve": {"scale": {"y": "independent"}}},
    {"width": 250, "height": 185, "data": {"name": "ewd"},
     "layer": [
      {"mark": {"type": "line", "color": "#2f9a58"}, "encoding": {
        "x": {"field": "t", "type": "quantitative", "scale": {"domain": [0, 48], "nice": false, "zero": false}, "axis": {"values": [0, 12, 24, 36, 48], "labelExpr": "datum.value % 24 == 0 ? '00:00' : '12:00'", "title": "时间", "titlePadding": 6}},
        "y": {"field": "b", "type": "quantitative", "scale": {"domain": [-40, 30], "nice": false, "zero": false}, "axis": {"values": [-40, -20, 0, 20], "title": null}},
        "color": {"datum": "2020年4月日值", "scale": {"domain": ["2020年4月日值", "2020年6月日值"], "range": ["#2f9a58", "#d62f35"]}, "legend": {"symbolSize": 576, "labelFontSize": 13, "offset": 4}}}},
      {"mark": {"type": "line", "color": "#d62f35"}, "encoding": {
        "x": {"field": "t", "type": "quantitative"},
        "y": {"field": "r", "type": "quantitative", "scale": {"domain": [-40, 30], "nice": false, "zero": false}, "axis": {"orient": "right", "values": [-40, -20, 0, 20], "title": "E/( mV/km ), EW", "titleX": 46, "titleY": 85, "titleBaseline": "middle", "titleAngle": 90}},
        "color": {"datum": "2020年6月日值"}}}
     ],
     "resolve": {"scale": {"y": "independent"}}}
   ]
  }
]
}
